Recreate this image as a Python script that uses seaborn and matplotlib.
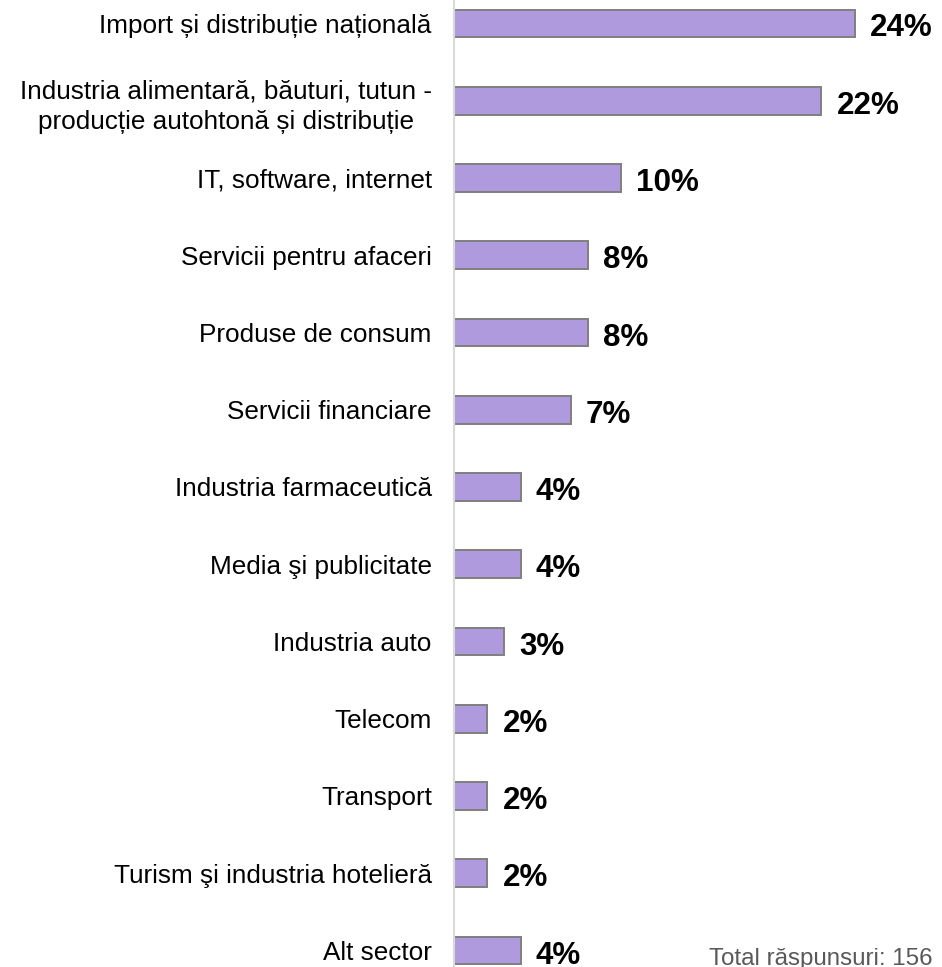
import matplotlib
matplotlib.use("Agg")
import matplotlib.pyplot as plt
import seaborn as sns
import pandas as pd

sectors = [
    "Import și distribuție națională",
    "Industria alimentară, băuturi, tutun -\nproducție autohtonă și distribuție",
    "IT, software, internet",
    "Servicii pentru afaceri",
    "Produse de consum",
    "Servicii financiare",
    "Industria farmaceutică",
    "Media şi publicitate",
    "Industria auto",
    "Telecom",
    "Transport",
    "Turism şi industria hotelieră",
    "Alt sector",
]
shares = [24, 22, 10, 8, 8, 7, 4, 4, 3, 2, 2, 2, 4]
footnote = "Total răspunsuri: 156"

df = pd.DataFrame({"sector": sectors, "share": shares})

sns.set_theme(style="white")
plt.rcParams["font.family"] = ["Liberation Sans", "DejaVu Sans"]

W, H, DPI = 942, 967, 100
fig = plt.figure(figsize=(W / DPI, H / DPI), dpi=DPI)
x0 = 454 / W
ax = fig.add_axes([x0, 0.0, 1 - x0, 1.0])

sns.barplot(data=df, x="share", y="sector", orient="h", ax=ax,
            color="#AE9ADC", saturation=1, width=0.36,
            edgecolor="#7F7F7F", linewidth=1.4)

# pixel scale: 16.7 px per percentage point, rows every 77.25 px
px_per_unit = 16.7
ax.set_xlim(0, (W - 454) / px_per_unit)
row = 77.25
top = 23.5
ax.set_ylim((H - top) / row, -top / row)

for i, v in enumerate(shares):
    ax.text(v + 15 / px_per_unit, i + 1.5 / row, f"{v}%", ha="left",
            va="center_baseline", fontsize=22.6, fontweight="bold",
            color="black")

ax.set_xlabel("")
ax.set_ylabel("")
ax.set_xticks([])
ax.set_yticks(range(len(sectors)), sectors, linespacing=1.38,
              multialignment="center")
ax.tick_params(axis="y", length=0, pad=16, labelsize=18.8, labelcolor="black")

for s in ["top", "right", "bottom"]:
    ax.spines[s].set_visible(False)
ax.spines["left"].set_color("#D9D9D9")
ax.spines["left"].set_linewidth(1.5)

fig.text(709 / W, 1 - 965 / H, footnote, ha="left", va="baseline",
         fontsize=17.4, color="#595959")

fig.savefig("out.png", dpi=DPI)
